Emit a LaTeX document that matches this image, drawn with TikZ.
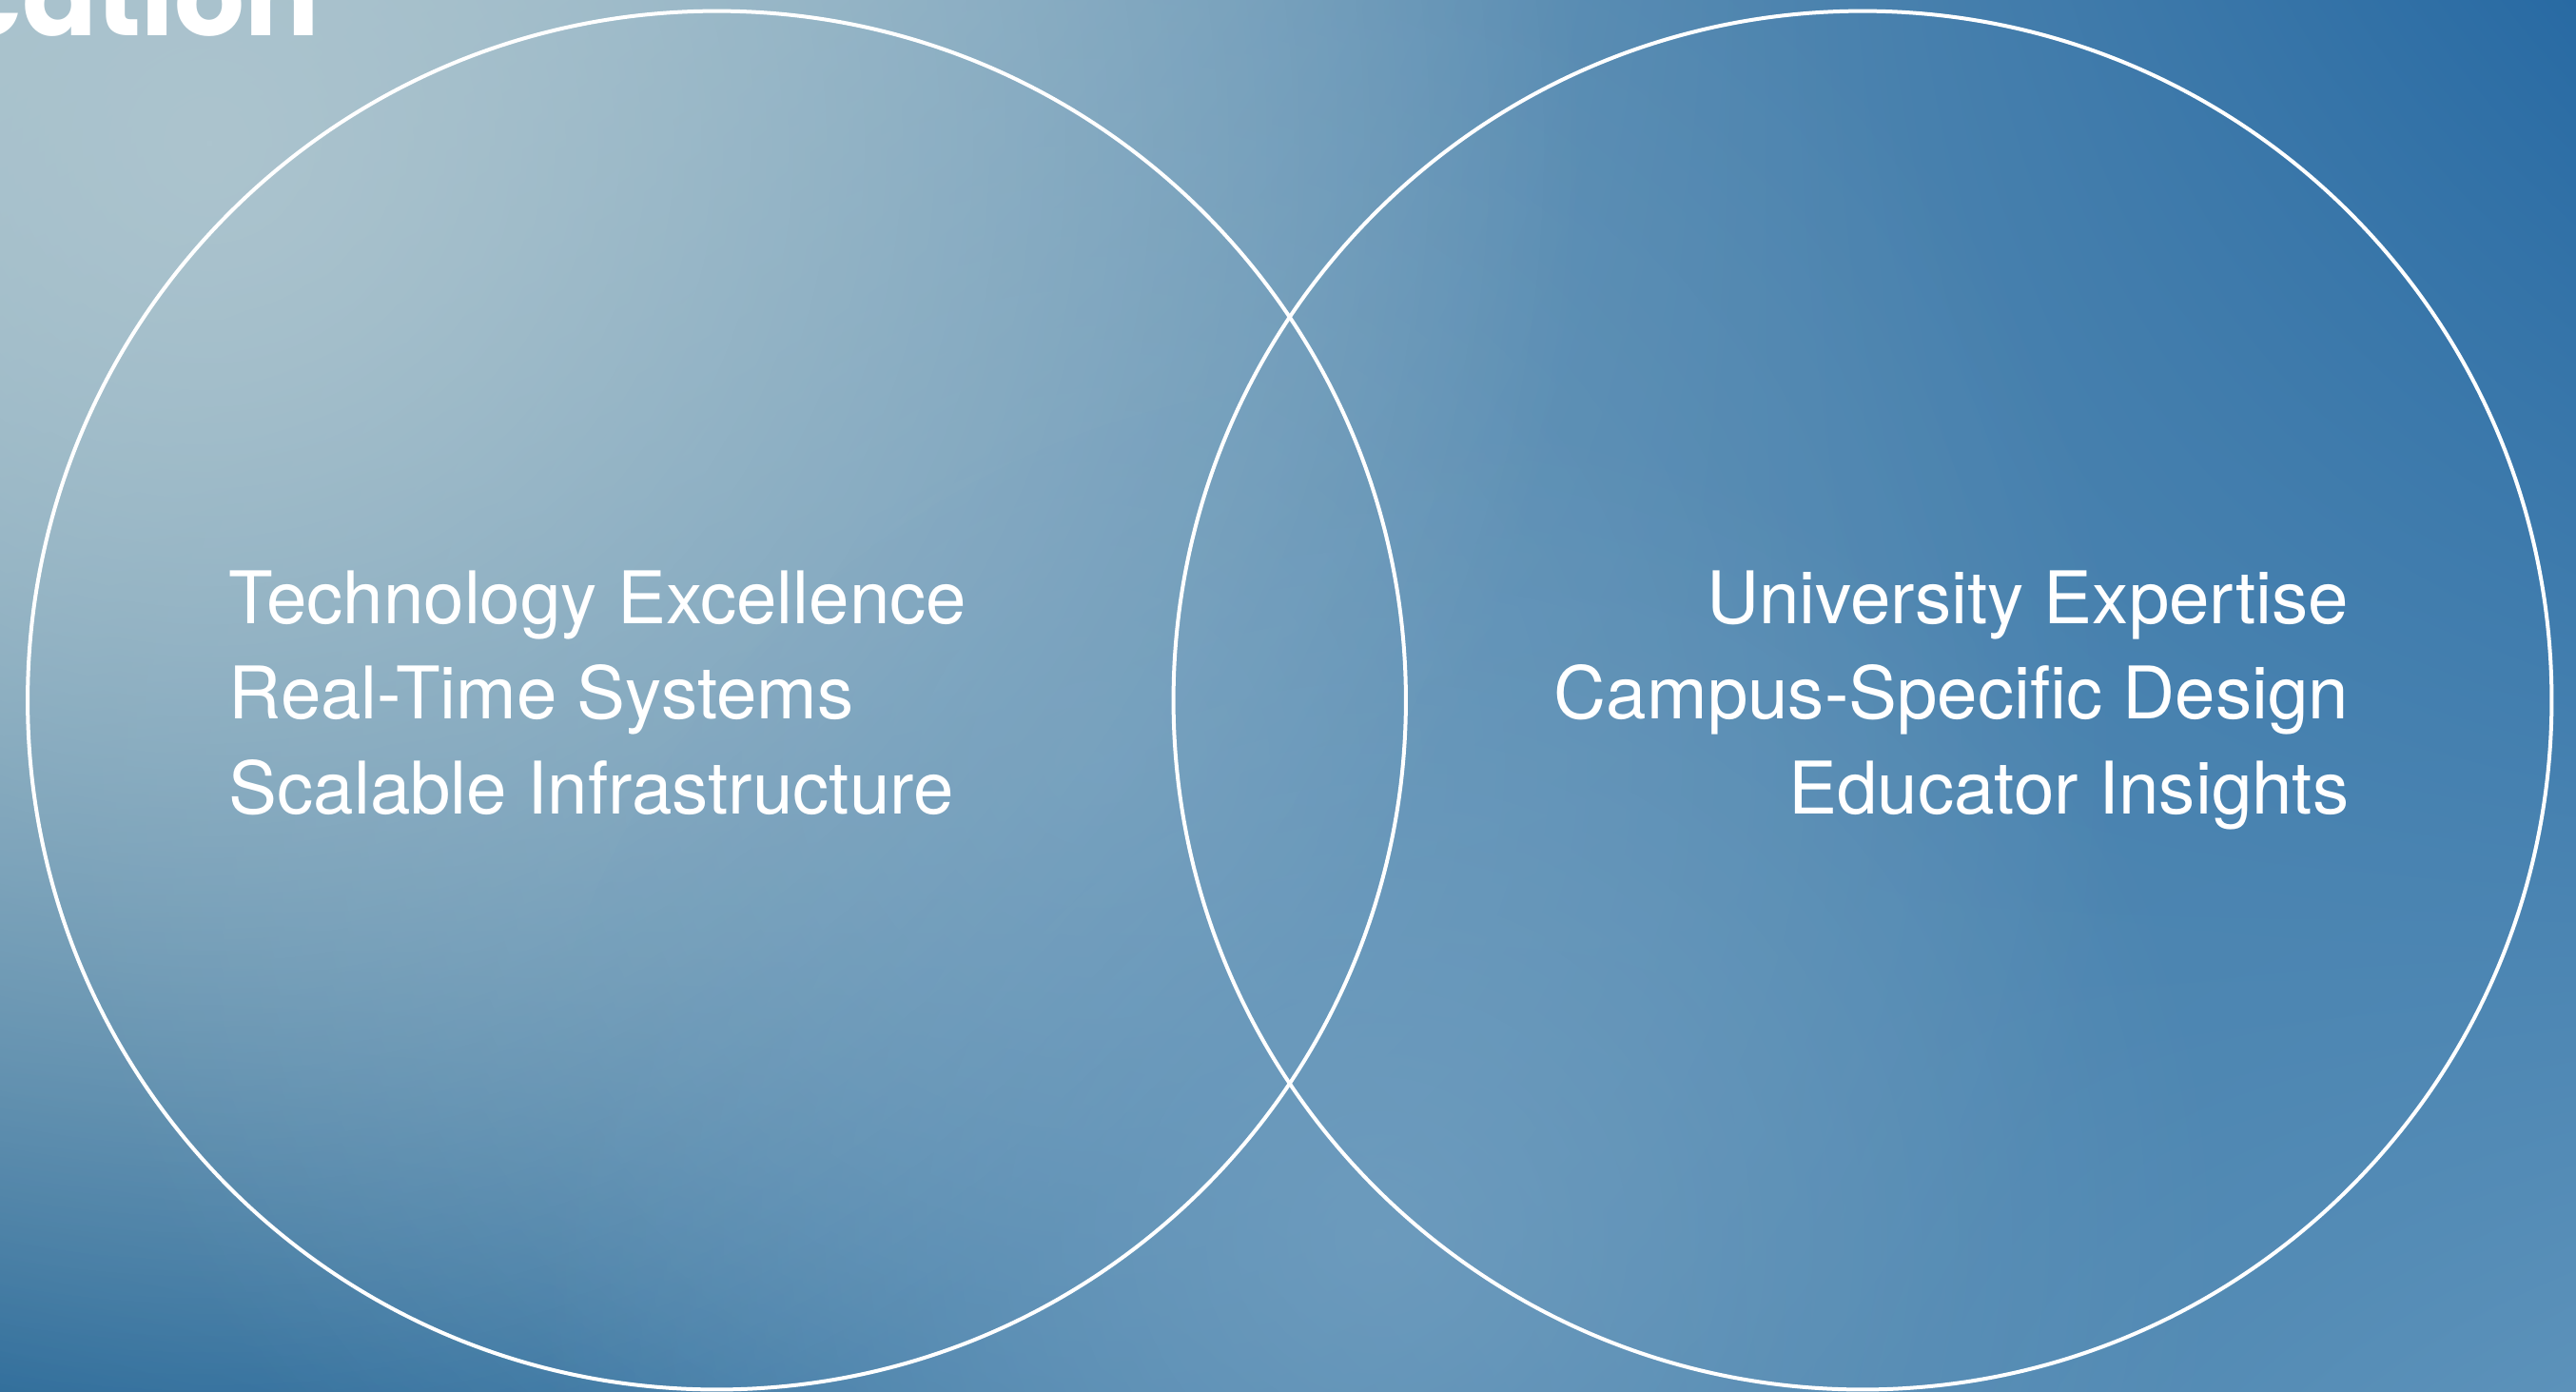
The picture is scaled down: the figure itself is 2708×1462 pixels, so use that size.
\documentclass[tikz,border=0pt]{standalone}
\usepackage{fontspec}
\setmainfont{TeX Gyre Heros}
\newfontfamily\headfont{Poppins}
\usetikzlibrary{fadings,shadings}
\definecolor{bgUL}{RGB}{160,190,201}
\definecolor{bgUR}{RGB}{40,106,163}
\definecolor{bgLL}{RGB}{40,104,152}
\definecolor{bgLR}{RGB}{92,146,186}
\definecolor{glowA}{RGB}{172,196,206}
\definecolor{glowB}{RGB}{118,162,194}
\definecolor{glowC}{RGB}{122,164,194}
\tikzfading[name=softglow, inner color=transparent!0, outer color=transparent!100]
\tikzset{
  ring/.style={draw=white, line width=0.04cm},
  item/.style={text=white, inner sep=0pt, font=\fontsize{21.7pt}{28.45pt}\selectfont},
  headword/.style={text=white, inner sep=0pt, font=\headfont\bfseries\fontsize{33pt}{36pt}\selectfont}
}
\begin{document}
\begin{tikzpicture}[x=0.01cm, y=-0.01cm]
\useasboundingbox (0,0) rectangle (2708,1462);
\begin{scope}
\clip (0,0) rectangle (2708,1462);
\shade[upper left=bgUL, upper right=bgUR, lower left=bgLL, lower right=bgLR] (0,0) rectangle (2708,1462);
\fill[glowC, path fading=softglow, opacity=0.6] (1150,800) circle[radius=11cm];
\fill[glowA, path fading=softglow] (220,150) circle[radius=14.5cm];
\fill[glowB, path fading=softglow, opacity=0.7] (1450,1300) circle[radius=9cm];
% partial heading at top left
\node[headword, anchor=base east] (head) at (336,37) {cation};
% circles
\coordinate (cl) at (753.5,736);
\coordinate (cr) at (1958,736);
\draw[ring] (cl) circle[radius=7.24cm];
\draw[ring] (cr) circle[radius=7.24cm];
\end{scope}
% left texts
\node[item, anchor=base west] (t1) at (240,655) {Technology Excellence};
\node[item, anchor=base west] (t2) at (240,755) {Real-Time Systems};
\node[item, anchor=base west] (t3) at (240,855) {Scalable Infrastructure};
% right texts
\node[item, anchor=base east] (u1) at (2470,655) {University Expertise};
\node[item, anchor=base east] (u2) at (2470,755) {Campus-Specific Design};
\node[item, anchor=base east] (u3) at (2470,855) {Educator Insights};
\end{tikzpicture}
\end{document}
